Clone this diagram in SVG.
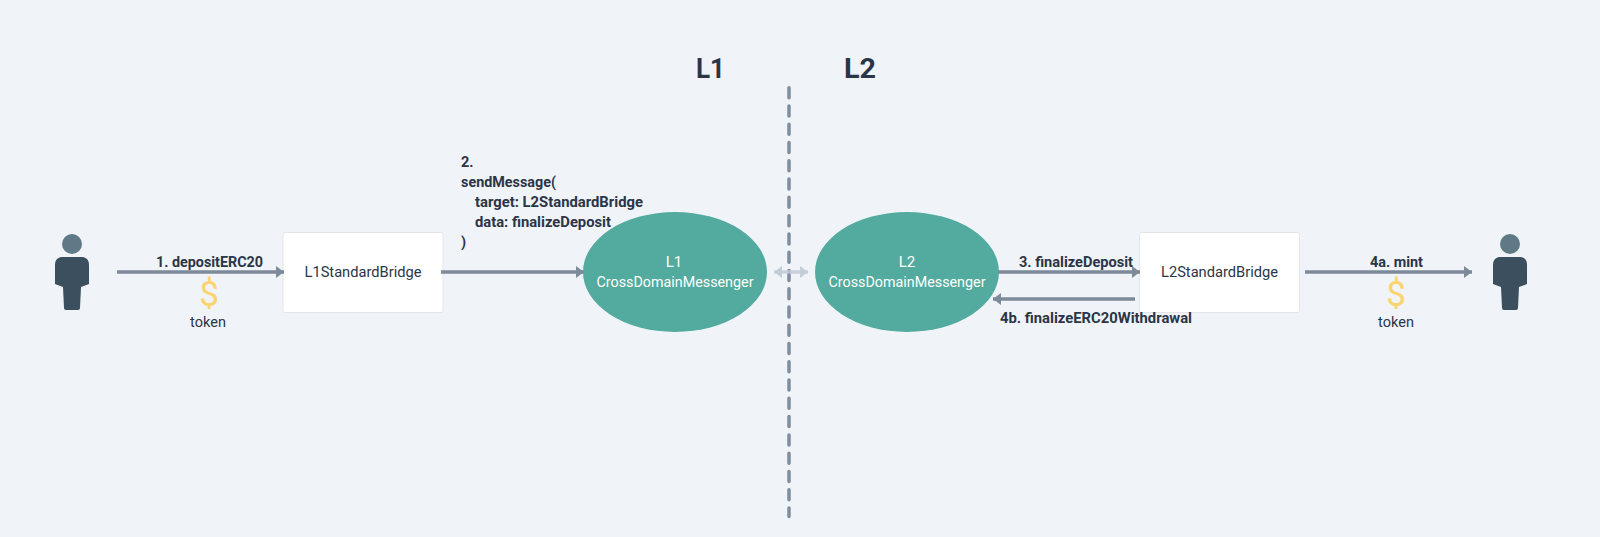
<svg xmlns="http://www.w3.org/2000/svg" width="1600" height="537" viewBox="0 0 1600 537">
<style>
text{font-family:Roboto,"Noto Sans","Liberation Sans",sans-serif;fill:#2a3647}
.b{font-weight:700;font-size:14.5px}
.n{font-size:14.5px;text-anchor:middle}
.w{fill:#fff;font-size:15px;text-anchor:middle}
.t{font-weight:700;font-size:28px}
.d{font-size:35px;fill:#fbd46d;text-anchor:middle;font-weight:400}
.box{fill:#fff;stroke:#e2e5ea;stroke-width:1}
.el{fill:#52ab9e}
.c{stroke:#7d8a99;stroke-width:3.500;fill:none;marker-end:url(#a)}
.head{fill:#5f7a86}
.body{fill:#3b4f5f}
</style>
<defs>
<marker id="a" markerUnits="userSpaceOnUse" markerWidth="10" markerHeight="14" refX="8" refY="7" orient="auto"><path d="M0 1L8 7L0 13Z" fill="#7d8a99"/></marker>
<marker id="l" markerUnits="userSpaceOnUse" markerWidth="10" markerHeight="14" refX="8" refY="7" orient="auto-start-reverse"><path d="M0 1L8 7L0 13Z" fill="#c3cdd8"/></marker>
<g id="person"><circle class="head" cx="0" cy="244" r="10"/><path class="body" d="M-11 257H11Q17 258 17 265V284L9 287L8 308Q8 310 6 310H-6Q-8 310 -8 308L-9 287L-17 284V265Q-17 258 -11 257Z"/></g>
</defs>
<rect width="1600" height="537" fill="#f0f3f7"/>
<text class="t" x="696" y="78" textLength="29" lengthAdjust="spacingAndGlyphs">L1</text>
<text class="t" x="844" y="78" textLength="32" lengthAdjust="spacingAndGlyphs">L2</text>
<g id="user-left"><use href="#person" x="72"/></g>
<g id="user-right"><use href="#person" x="1510"/></g>
<g id="l1-bridge"><rect class="box" x="283" y="232.500" width="160" height="80" rx="2"/><text class="n" x="363" y="277" textLength="117" lengthAdjust="spacingAndGlyphs">L1StandardBridge</text></g>
<g id="l2-bridge"><rect class="box" x="1139.500" y="232.500" width="160" height="80" rx="2"/><text class="n" x="1219.500" y="277" textLength="117" lengthAdjust="spacingAndGlyphs">L2StandardBridge</text></g>
<g id="l1-messenger"><ellipse class="el" cx="675" cy="272" rx="92" ry="60"/><text class="w" x="674" y="267">L1</text><text class="w" x="675" y="287" textLength="157" lengthAdjust="spacingAndGlyphs">CrossDomainMessenger</text></g>
<g id="l2-messenger"><ellipse class="el" cx="907" cy="272" rx="92" ry="60"/><text class="w" x="907" y="267">L2</text><text class="w" x="907" y="287" textLength="157" lengthAdjust="spacingAndGlyphs">CrossDomainMessenger</text></g>
<g id="connectors">
<line x1="789" y1="87.750" x2="789" y2="516.500" stroke="#7f8d9c" stroke-width="3.500" stroke-linecap="round" stroke-dasharray="10 8.270"/>
<line x1="774" y1="272" x2="808" y2="272" stroke="#c3cdd8" stroke-width="3.500" stroke-opacity=".85" marker-start="url(#l)" marker-end="url(#l)"/>
<line class="c" x1="117" y1="272" x2="284" y2="272"/>
<line class="c" x1="441" y1="272" x2="584" y2="272"/>
<line class="c" x1="998" y1="272" x2="1140" y2="272"/>
<line class="c" x1="1135" y1="299" x2="993" y2="299"/>
<line class="c" x1="1305" y1="272" x2="1472" y2="272"/>
</g>
<g id="labels">
<text class="b" x="156" y="267" textLength="107" lengthAdjust="spacingAndGlyphs">1. depositERC20</text>
<text class="d" x="209" y="306">$</text>
<text class="n" x="208" y="327">token</text>
<text class="b" x="461" y="167">2.</text>
<text class="b" x="461" y="187" textLength="95" lengthAdjust="spacingAndGlyphs">sendMessage(</text>
<text class="b" x="475" y="207" textLength="168" lengthAdjust="spacingAndGlyphs">target: L2StandardBridge</text>
<text class="b" x="475" y="227" textLength="136" lengthAdjust="spacingAndGlyphs">data: finalizeDeposit</text>
<text class="b" x="461" y="247">)</text>
<text class="b" x="1019" y="267" textLength="114" lengthAdjust="spacingAndGlyphs">3. finalizeDeposit</text>
<text class="b" x="1000" y="323" textLength="192" lengthAdjust="spacingAndGlyphs">4b. finalizeERC20Withdrawal</text>
<text class="b" x="1370" y="267" textLength="53" lengthAdjust="spacingAndGlyphs">4a. mint</text>
<text class="d" x="1396" y="306">$</text>
<text class="n" x="1396" y="327">token</text>
</g>
</svg>
